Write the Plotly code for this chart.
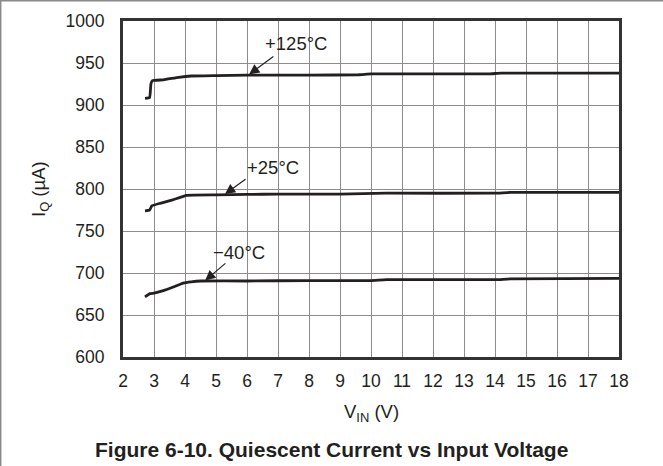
import plotly.graph_objects as go

# ---- data ----
v_125 = [2.71, 2.86, 2.90, 2.95, 3.3, 3.8, 4.2, 5.0, 6.0, 8.0, 9.6, 10.0, 12.0, 13.8, 14.2, 16.0, 18.0]
i_125 = [908, 909, 925, 929, 930, 933, 934.5, 935, 935.5, 935.5, 936, 937, 937, 937, 938, 938, 938]

v_25 = [2.71, 2.86, 2.93, 3.2, 3.6, 4.05, 5.0, 6.0, 7.0, 9.0, 10.5, 14.0, 14.5, 18.0]
i_25 = [774, 775, 780, 783, 787, 792.5, 793, 793.5, 794, 794, 795, 795, 796, 796]

v_m40 = [2.71, 2.87, 3.0, 3.3, 3.6, 3.94, 4.2, 4.5, 6.0, 8.0, 10.0, 10.5, 14.0, 14.5, 18.0]
i_m40 = [671.5, 675.5, 676, 679, 683, 688, 689.5, 690.5, 690.5, 691, 691, 692, 692, 693, 693.5]

labels = ["+125°C", "+25°C", "\u221240°C"]
label_x = [7.58, 6.84, 5.74]
label_y = [973.5, 826, 725]
arrow_tip_x = [6.07, 5.29, 4.65]
arrow_tip_y = [936.5, 794, 691]
arrow_tail_x = [6.9, 6.0, 5.35]
arrow_tail_y = [959, 813, 713]

x_ticks = list(range(2, 19))
y_ticks = list(range(600, 1001, 50))

FONT = "Liberation Sans, Arial, Helvetica, sans-serif"
INK = "#231f20"

ML, MR, MT, MB = 123, 44, 21, 109
W, H = 663, 466
pw, ph = W - ML - MR, H - MT - MB

fig = go.Figure()
for vx, iy in [(v_125, i_125), (v_25, i_25), (v_m40, i_m40)]:
    fig.add_trace(go.Scatter(x=vx, y=iy, mode="lines",
                             line=dict(color=INK, width=2.8, shape="spline", smoothing=0.3),
                             showlegend=False, hoverinfo="skip"))

annotations = []
for t, lx, ly, tx, ty, ax, ay in zip(labels, label_x, label_y, arrow_tip_x, arrow_tip_y,
                                     arrow_tail_x, arrow_tail_y):
    annotations.append(dict(x=lx, y=ly, xref="x", yref="y", text=t, showarrow=False,
                            font=dict(family=FONT, size=18.5, color=INK),
                            xanchor="center", yanchor="middle"))
    annotations.append(dict(x=tx, y=ty, xref="x", yref="y", ax=ax, ay=ay,
                            axref="x", ayref="y", text="", showarrow=True,
                            arrowhead=2, arrowsize=1.7, arrowwidth=1.2, arrowcolor=INK,
                            standoff=0, startstandoff=0))

# axis titles
annotations.append(dict(x=0.5, y=-(413 - (H - MB)) / ph, xref="paper", yref="paper",
                        text="V<sub>IN</sub> (V)", showarrow=False,
                        font=dict(family=FONT, size=18.5, color=INK),
                        xanchor="center", yanchor="middle"))
annotations.append(dict(x=(40 - ML) / pw, y=0.5, xref="paper", yref="paper",
                        text="I<sub>Q</sub> (µA)", showarrow=False, textangle=-90,
                        font=dict(family=FONT, size=18.5, color=INK),
                        xanchor="center", yanchor="middle"))
# caption
annotations.append(dict(x=(W / 2 - ML) / pw, y=-(449 - (H - MB)) / ph, xref="paper", yref="paper",
                        text="<b>Figure 6-10. Quiescent Current vs Input Voltage</b>",
                        showarrow=False, font=dict(family=FONT, size=21, color=INK),
                        xanchor="center", yanchor="middle"))

shapes = [
    dict(type="line", xref="paper", yref="paper",
         x0=-ML / pw, x1=(W - ML) / pw, y0=1 + (MT - 0.7) / ph, y1=1 + (MT - 0.7) / ph,
         line=dict(color="#8a8a8a", width=1.5)),
    dict(type="line", xref="paper", yref="paper",
         x0=-(ML - 0.7) / pw, x1=-(ML - 0.7) / pw, y0=-MB / ph, y1=1 + MT / ph,
         line=dict(color="#8a8a8a", width=1.5)),
]

fig.update_layout(
    width=W, height=H,
    margin=dict(l=ML, r=MR, t=MT, b=MB),
    paper_bgcolor="white", plot_bgcolor="white",
    font=dict(family=FONT, size=17.5, color=INK),
    annotations=annotations, shapes=shapes,
    xaxis=dict(range=[2, 18], tickvals=x_ticks, ticktext=[str(v) for v in x_ticks],
               showgrid=True, gridcolor="#8c8c8c", gridwidth=1,
               showline=True, linecolor="#333333", linewidth=3, mirror=True,
               ticks="outside", ticklen=0, ticklabelstandoff=6,
               tickfont=dict(family=FONT, size=17.5, color=INK), zeroline=False),
    yaxis=dict(range=[600, 1000], tickvals=y_ticks, ticktext=[str(v) for v in y_ticks],
               showgrid=True, gridcolor="#8c8c8c", gridwidth=1,
               showline=True, linecolor="#333333", linewidth=3, mirror=True,
               ticks="outside", ticklen=0, ticklabelstandoff=12,
               tickfont=dict(family=FONT, size=17.5, color=INK), zeroline=False),
)

fig.write_html("out.html", config={"displayModeBar": False},
               post_script="document.body.style.margin='0';document.body.style.overflow='hidden';")
